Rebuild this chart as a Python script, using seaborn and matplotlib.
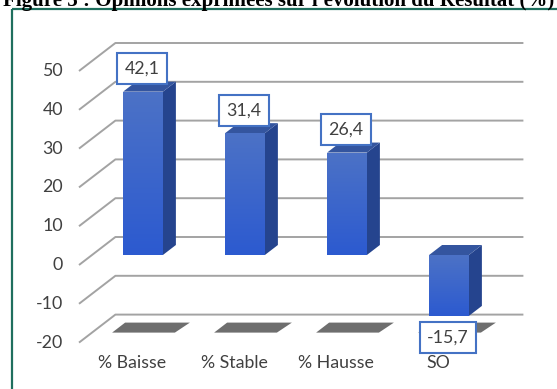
import numpy as np
import pandas as pd
import matplotlib
matplotlib.use("Agg")
import matplotlib.pyplot as plt
import seaborn as sns
from matplotlib.patches import Polygon
from matplotlib.lines import Line2D
from matplotlib.colors import LinearSegmentedColormap
from matplotlib.transforms import IdentityTransform

# ---- data -------------------------------------------------------------
categories = ["% Baisse", "% Stable", "% Hausse", "SO"]
values = [42.1, 31.4, 26.4, -15.7]
y_ticks = [50, 40, 30, 20, 10, 0, -10, -20]
title = "Figure 5 : Opinions exprimées sur l'évolution du Résultat (%)"

# ---- style ------------------------------------------------------------
sns.set_theme(style="white")
plt.rcParams["font.family"] = ["Lato", "DejaVu Sans"]
TEXT = "#404040"
GRID = "#a3a3a3"
TEAL = "#1f6f5e"
BOX = "#4472c4"
FS = 12.8

W, H = 557, 389
fig = plt.figure(figsize=(W / 100, H / 100), dpi=100)
fig.patch.set_facecolor("white")

# axes holding the front plane of the bars
ymin, ymax = min(y_ticks), max(y_ticks)
ax = fig.add_axes([92 / W, (H - 332.6) / H, 408 / W, (332.6 - 61) / H])
df = pd.DataFrame({"cat": categories, "val": values})
sns.barplot(data=df, x="cat", y="val", width=0.39, color="#3a64c8",
            saturation=1, ax=ax, zorder=3)
bars = list(ax.patches)
x_lo, x_hi = -0.5, len(categories) - 0.5
ax.set_xlim(x_lo, x_hi)
ax.set_ylim(ymin, ymax)
ax.axis("off")
fig.canvas.draw()


def px(x, v, t=0.0):
    """Display pixel of data point (x, v) pushed back by depth t pixels."""
    X, Y = ax.transData.transform((x, v))
    return (X + 1.3 * t, Y + t)


def poly(pts, **kw):
    p = Polygon(pts, closed=True, transform=IdentityTransform(), clip_on=False, **kw)
    ax.add_artist(p)
    return p


BAR_DEPTH = 10
WALL = 18
FRONT = -10

# back wall gridlines and left side-wall diagonals
for v in y_ticks:
    a = px(x_lo, v, FRONT)
    b = px(x_lo, v, WALL)
    c = px(x_hi, v, WALL)
    ax.add_artist(Line2D([a[0], b[0], c[0]], [a[1], b[1], c[1]],
                         transform=IdentityTransform(), color=GRID,
                         lw=1.4, zorder=1, clip_on=False,
                         solid_capstyle="butt"))

# bar shadows on the floor
for rect in bars:
    x0, w = rect.get_x(), rect.get_width()
    l = px(x0, ymin)[0] - 11
    r = px(x0 + w, ymin)[0] + 12
    yb = px(x0, ymin)[1]
    pts = [(l, yb), (r, yb), (r + 1.3 * BAR_DEPTH + 2, yb + BAR_DEPTH),
           (l + 1.3 * BAR_DEPTH, yb + BAR_DEPTH)]
    poly(pts, facecolor="#5a5a5a", edgecolor="none", alpha=0.88, zorder=1.5)

# 3-D bars: side, top and gradient front
front_cmap = LinearSegmentedColormap.from_list("front", ["#2c5ad0", "#4c72c6"])
grad = np.linspace(0, 1, 256).reshape(-1, 1)
for rect in bars:
    x0, w = rect.get_x(), rect.get_width()
    y0, h = rect.get_y(), rect.get_height()
    lo, hi = min(y0, y0 + h), max(y0, y0 + h)
    fl, fr = px(x0, hi), px(x0 + w, hi)
    br = px(x0 + w, lo)
    # side face
    side = [fr, br, px(x0 + w, lo, BAR_DEPTH), px(x0 + w, hi, BAR_DEPTH)]
    poly(side, facecolor="#25448e", edgecolor="none", zorder=2)
    # top face
    top = [fl, fr, px(x0 + w, hi, BAR_DEPTH), px(x0, hi, BAR_DEPTH)]
    poly(top, facecolor="#34559f", edgecolor="none", zorder=2)
    # front face gradient
    rect.set_edgecolor("none")
    im = ax.imshow(grad, cmap=front_cmap, extent=[x0, x0 + w, lo, hi],
                   origin="lower", aspect="auto", zorder=3.5)
    im.set_clip_path(rect)

ax.set_xlim(x_lo, x_hi)
ax.set_ylim(ymin, ymax)

# value labels
for i, v in enumerate(values):
    lab = f"{v:.1f}".replace(".", ",")
    dy = 23 if v >= 0 else -22
    ax.annotate(lab, (i, v), xytext=(-1 * 0.72, dy * 0.72),
                textcoords="offset points", ha="center", va="center",
                fontsize=FS, color=TEXT, zorder=6, annotation_clip=False,
                bbox=dict(boxstyle="square,pad=0.42", fc="white",
                          ec=BOX, lw=1.5))

# category labels
for i, c in enumerate(categories):
    ax.annotate(c, (i, ymin), xytext=(-11 * 0.72, -30 * 0.72),
                textcoords="offset points", ha="center", va="center",
                fontsize=FS, color=TEXT, annotation_clip=False)

# value axis labels on the front plane
for v in y_ticks:
    ax.annotate(str(v), (x_lo, v), xytext=(-29 * 0.72, -10 * 0.72),
                textcoords="offset points", ha="right", va="center",
                fontsize=FS, color=TEXT, annotation_clip=False)

# frame around the chart
fy = 1 - 9 / H
fx = 11.5 / W
fig.add_artist(Line2D([fx, 1.0], [fy, fy], transform=fig.transFigure,
                      color=TEAL, lw=1.6, solid_capstyle="butt"))
fig.add_artist(Line2D([fx, fx], [fy, 0.0], transform=fig.transFigure,
                      color=TEAL, lw=1.6, solid_capstyle="butt"))

# caption above the frame, fitted to the width
t = fig.text(3 / W, 1 - 6 / H, title, ha="left", va="baseline",
             fontfamily="Liberation Serif", fontweight="bold",
             fontsize=13, color="black")
fig.canvas.draw()
bb = t.get_window_extent()
t.set_fontsize(13 * 552 / bb.width)

fig.savefig("out.png", dpi=100, facecolor="white")
